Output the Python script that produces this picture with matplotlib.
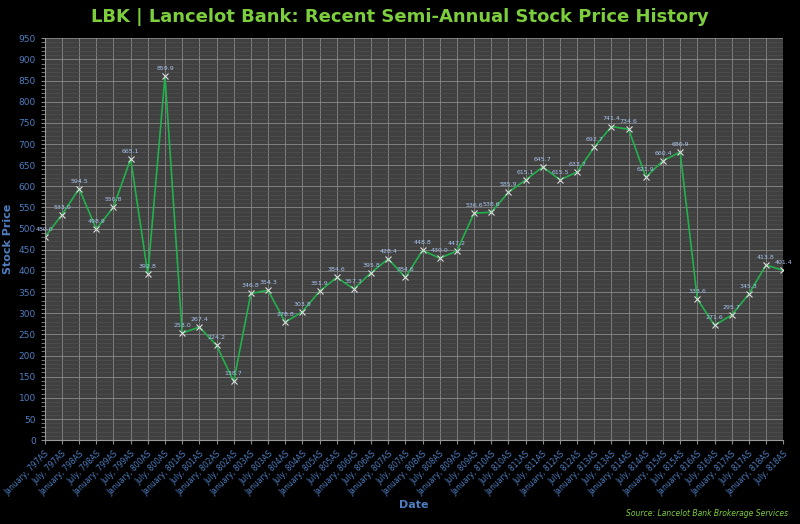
import matplotlib
matplotlib.use("Agg")
import matplotlib.pyplot as plt
from matplotlib.ticker import MultipleLocator

years = list(range(797, 819))
dates = []
for y in years:
    dates.append(f"January, {y}AS")
    dates.append(f"July, {y}AS")

prices = [480.0, 533.0, 594.5, 498.9, 550.8, 665.1, 392.8, 859.9, 253.0, 267.4,
          224.2, 138.7, 346.8, 354.3, 278.8, 303.8, 351.9, 384.6, 357.3, 395.8,
          428.4, 384.6, 448.8, 430.0, 447.2, 536.6, 538.6, 585.9, 615.1, 645.7,
          615.5, 633.7, 692.7, 741.4, 734.6, 621.9, 660.4, 680.9, 333.6, 271.6,
          295.7, 345.3, 413.8, 401.4]

fig = plt.figure(figsize=(8, 5.24), dpi=100, facecolor="black")
ax = fig.add_axes([0.056, 0.16, 0.923, 0.767])
ax.set_facecolor("#404040")
x = list(range(len(prices)))
ax.plot(x, prices, color="#22b14c", linewidth=1.2, marker="x", markersize=4,
        markeredgecolor="#dddddd", markeredgewidth=0.8)
for xi, p in zip(x, prices):
    ax.text(xi, p + 12, f"{p:.1f}", ha="center", va="bottom", fontsize=4.5, color="#a8c4ee")

ax.set_xlim(0, len(prices) - 1)
ax.set_ylim(0, 950)
ax.yaxis.set_major_locator(MultipleLocator(50))
ax.yaxis.set_minor_locator(MultipleLocator(10))
ax.set_xticks(x)
ax.set_xticklabels(dates, rotation=45, ha="right", rotation_mode="anchor", fontsize=5.5, color="#4f7ec0")
ax.tick_params(axis="y", labelsize=6.5, colors="#4f7ec0")
ax.tick_params(axis="both", which="both", color="#888888", length=3)
ax.grid(True, which="major", color="#8a8a8a", linewidth=0.6)
ax.grid(True, which="minor", axis="y", color="#525252", linewidth=0.4)
for s in ax.spines.values():
    s.set_visible(False)
ax.spines["bottom"].set_visible(True)
ax.spines["bottom"].set_color("#999999")
ax.spines["left"].set_visible(True)
ax.spines["left"].set_color("#999999")

ax.set_xlabel("Date", color="#4f7ec0", fontsize=8, fontweight="bold", labelpad=2)
ax.set_ylabel("Stock Price", color="#4f7ec0", fontsize=8, fontweight="bold")
fig.suptitle("LBK | Lancelot Bank: Recent Semi-Annual Stock Price History",
             color="#7dce3c", fontsize=13, fontweight="bold", y=0.985)
fig.text(0.985, 0.015, "Source: Lancelot Bank Brokerage Services", color="#7dce3c",
         fontsize=5.5, style="italic", ha="right")
fig.savefig("out.png", dpi=100, facecolor="black")
